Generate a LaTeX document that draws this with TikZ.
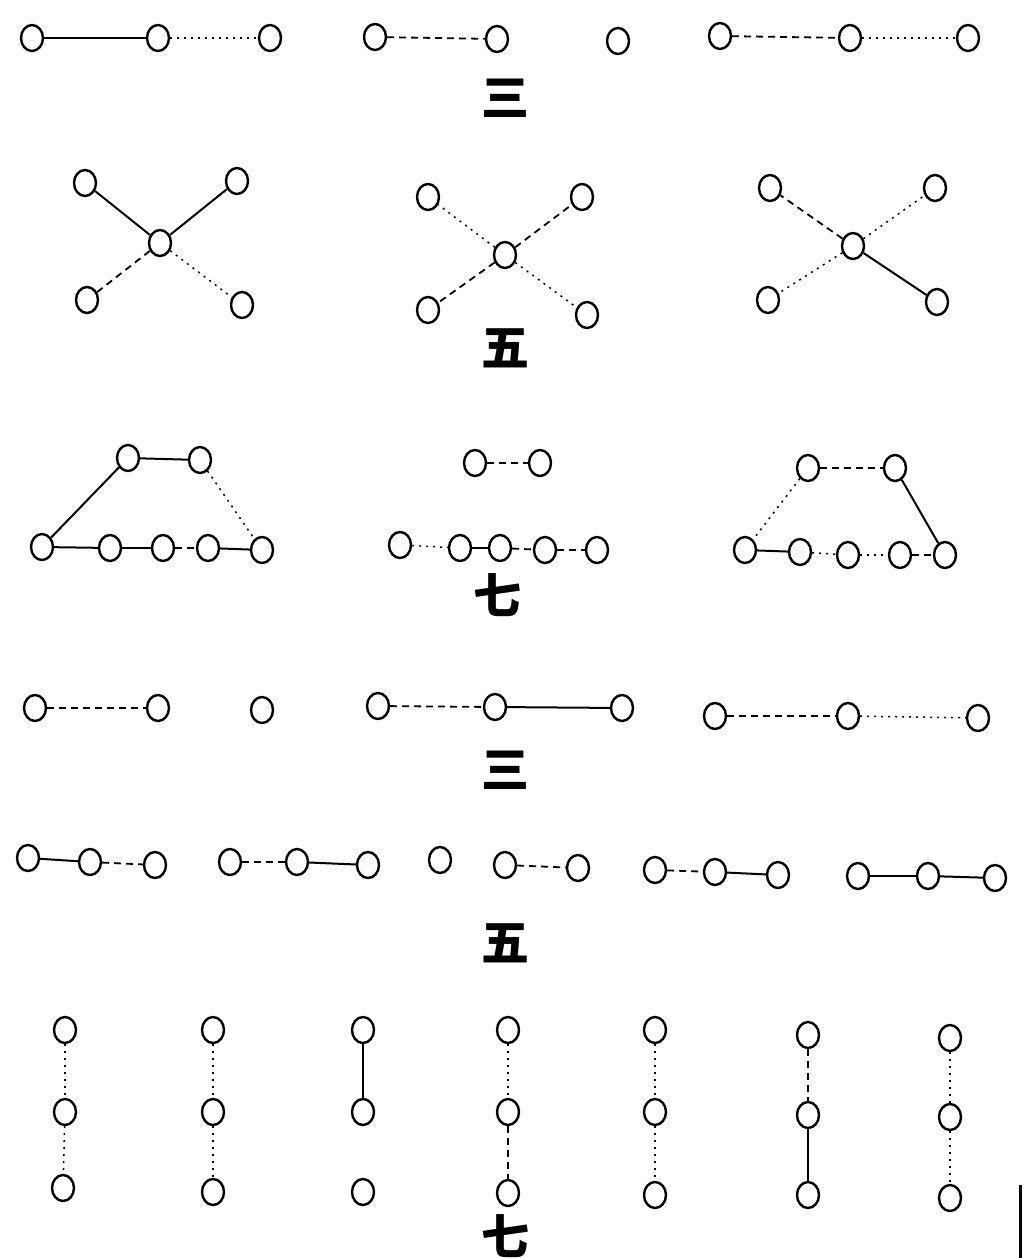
\documentclass[tikz,border=0pt]{standalone}
\usepackage{fontspec}
\newfontfamily\cjk{Noto Sans CJK SC}
\usetikzlibrary{shapes.geometric}

\begin{document}
\begin{tikzpicture}[x=1pt,y=-1pt,
        ring/.style={draw,ellipse,line width=2.4pt,minimum width=22pt,minimum height=26pt,inner sep=0pt},
        fullln/.style={line width=2pt},
        dashln/.style={line width=1.8pt,dash pattern=on 7pt off 5pt},
        dotln/.style={line width=1.5pt,dash pattern=on 2pt off 5pt},
        numeral/.style={font=\cjk\bfseries\fontsize{48}{48}\selectfont,inner sep=0pt}]
    \useasboundingbox (0,0) rectangle (1023,1258);

    % three in a row
    \node[ring] (a1) at (32,38) {}; \node[ring] (a2) at (158,38) {}; \node[ring] (a3) at (270,38) {};
    \node[ring] (b1) at (375,37) {}; \node[ring] (b2) at (497,39) {}; \node[ring] (b3) at (618,41) {};
    \node[ring] (c1) at (720,36) {}; \node[ring] (c2) at (850,38) {}; \node[ring] (c3) at (968,38) {};
    \draw[fullln] (a1) -- (a2); \draw[dotln] (a2) -- (a3);
    \draw[dashln] (b1) -- (b2);
    \draw[dashln] (c1) -- (c2); \draw[dotln] (c2) -- (c3);
    \node[numeral] (three1) at (505,98) {三};

    % crosses
    \node[ring] (xa) at (160,243) {};
    \node[ring] (xa1) at (85,183) {}; \node[ring] (xa2) at (237,181) {};
    \node[ring] (xa3) at (87,300) {}; \node[ring] (xa4) at (242,305) {};
    \draw[fullln] (xa) -- (xa1); \draw[fullln] (xa) -- (xa2);
    \draw[dashln] (xa) -- (xa3); \draw[dotln] (xa) -- (xa4);
    \node[ring] (xb) at (505,255) {};
    \node[ring] (xb1) at (428,197) {}; \node[ring] (xb2) at (582,197) {};
    \node[ring] (xb3) at (428,310) {}; \node[ring] (xb4) at (587,315) {};
    \draw[dotln] (xb) -- (xb1); \draw[dashln] (xb) -- (xb2);
    \draw[dashln] (xb) -- (xb3); \draw[dotln] (xb) -- (xb4);
    \node[ring] (xc) at (853,246) {};
    \node[ring] (xc1) at (770,188) {}; \node[ring] (xc2) at (935,188) {};
    \node[ring] (xc3) at (768,300) {}; \node[ring] (xc4) at (937,302) {};
    \draw[dashln] (xc) -- (xc1); \draw[dotln] (xc) -- (xc2);
    \draw[dotln] (xc) -- (xc3); \draw[fullln] (xc) -- (xc4);
    \node[numeral] (five1) at (505,348) {五};

    % seven: two over five
    \node[ring] (ta1) at (128,458) {}; \node[ring] (ta2) at (200,460) {};
    \node[ring] (la1) at (42,547) {}; \node[ring] (la2) at (110,548) {}; \node[ring] (la3) at (163,548) {};
    \node[ring] (la4) at (208,548) {}; \node[ring] (la5) at (262,550) {};
    \draw[fullln] (ta1) -- (ta2); \draw[fullln] (ta1) -- (la1); \draw[dotln] (ta2) -- (la5);
    \draw[fullln] (la1) -- (la2); \draw[fullln] (la2) -- (la3);
    \draw[dashln] (la3) -- (la4); \draw[fullln] (la4) -- (la5);
    \node[ring] (tb1) at (475,463) {}; \node[ring] (tb2) at (540,463) {};
    \node[ring] (lb1) at (400,545) {}; \node[ring] (lb2) at (460,548) {}; \node[ring] (lb3) at (500,548) {};
    \node[ring] (lb4) at (545,550) {}; \node[ring] (lb5) at (597,550) {};
    \draw[dashln] (tb1) -- (tb2);
    \draw[dotln] (lb1) -- (lb2); \draw[fullln] (lb2) -- (lb3);
    \draw[dashln] (lb3) -- (lb4); \draw[dashln] (lb4) -- (lb5);
    \node[ring] (tc1) at (808,468) {}; \node[ring] (tc2) at (895,468) {};
    \node[ring] (lc1) at (745,550) {}; \node[ring] (lc2) at (800,552) {}; \node[ring] (lc3) at (848,555) {};
    \node[ring] (lc4) at (900,555) {}; \node[ring] (lc5) at (945,555) {};
    \draw[dashln] (tc1) -- (tc2); \draw[dotln] (tc1) -- (lc1); \draw[fullln] (tc2) -- (lc5);
    \draw[fullln] (lc1) -- (lc2); \draw[dotln] (lc2) -- (lc3);
    \draw[dotln] (lc3) -- (lc4); \draw[dashln] (lc4) -- (lc5);
    \node[numeral] (seven1) at (497,595) {七};

    % three again
    \node[ring] (d1) at (35,708) {}; \node[ring] (d2) at (158,708) {}; \node[ring] (d3) at (262,710) {};
    \node[ring] (e1) at (378,706) {}; \node[ring] (e2) at (495,707) {}; \node[ring] (e3) at (622,708) {};
    \node[ring] (f1) at (715,716) {}; \node[ring] (f2) at (848,716) {}; \node[ring] (f3) at (978,718) {};
    \draw[dashln] (d1) -- (d2);
    \draw[dashln] (e1) -- (e2); \draw[fullln] (e2) -- (e3);
    \draw[dashln] (f1) -- (f2); \draw[dotln] (f2) -- (f3);
    \node[numeral] (three2) at (505,770) {三};

    % five groups of three
    \node[ring] (g1) at (28,858) {}; \node[ring] (g2) at (90,862) {}; \node[ring] (g3) at (155,865) {};
    \node[ring] (h1) at (230,862) {}; \node[ring] (h2) at (297,862) {}; \node[ring] (h3) at (368,865) {};
    \node[ring] (i1) at (440,860) {}; \node[ring] (i2) at (505,865) {}; \node[ring] (i3) at (578,868) {};
    \node[ring] (j1) at (655,870) {}; \node[ring] (j2) at (715,872) {}; \node[ring] (j3) at (778,875) {};
    \node[ring] (k1) at (858,876) {}; \node[ring] (k2) at (928,876) {}; \node[ring] (k3) at (995,878) {};
    \draw[fullln] (g1) -- (g2); \draw[dashln] (g2) -- (g3);
    \draw[dashln] (h1) -- (h2); \draw[fullln] (h2) -- (h3);
    \draw[dashln] (i2) -- (i3);
    \draw[dashln] (j1) -- (j2); \draw[fullln] (j2) -- (j3);
    \draw[fullln] (k1) -- (k2); \draw[fullln] (k2) -- (k3);
    \node[numeral] (five2) at (505,943) {五};

    % seven columns
    \node[ring] (m1) at (65,1030) {}; \node[ring] (m2) at (65,1112) {}; \node[ring] (m3) at (63,1188) {};
    \node[ring] (n1) at (213,1030) {}; \node[ring] (n2) at (213,1112) {}; \node[ring] (n3) at (213,1192) {};
    \node[ring] (o1) at (363,1030) {}; \node[ring] (o2) at (363,1112) {}; \node[ring] (o3) at (363,1192) {};
    \node[ring] (p1) at (508,1030) {}; \node[ring] (p2) at (508,1112) {}; \node[ring] (p3) at (508,1193) {};
    \node[ring] (q1) at (655,1030) {}; \node[ring] (q2) at (655,1112) {}; \node[ring] (q3) at (655,1195) {};
    \node[ring] (r1) at (808,1035) {}; \node[ring] (r2) at (808,1115) {}; \node[ring] (r3) at (808,1195) {};
    \node[ring] (s1) at (950,1038) {}; \node[ring] (s2) at (950,1117) {}; \node[ring] (s3) at (950,1198) {};
    \draw[dotln] (m1) -- (m2); \draw[dotln] (m2) -- (m3);
    \draw[dotln] (n1) -- (n2); \draw[dotln] (n2) -- (n3);
    \draw[fullln] (o1) -- (o2);
    \draw[dotln] (p1) -- (p2); \draw[dashln] (p2) -- (p3);
    \draw[dotln] (q1) -- (q2); \draw[dotln] (q2) -- (q3);
    \draw[dashln] (r1) -- (r2); \draw[fullln] (r2) -- (r3);
    \draw[dotln] (s1) -- (s2); \draw[dotln] (s2) -- (s3);
    \node[numeral] (seven2) at (505,1236) {七};

    \draw[line width=3pt] (1020,1185) -- (1020,1258);
\end{tikzpicture}
\end{document}
